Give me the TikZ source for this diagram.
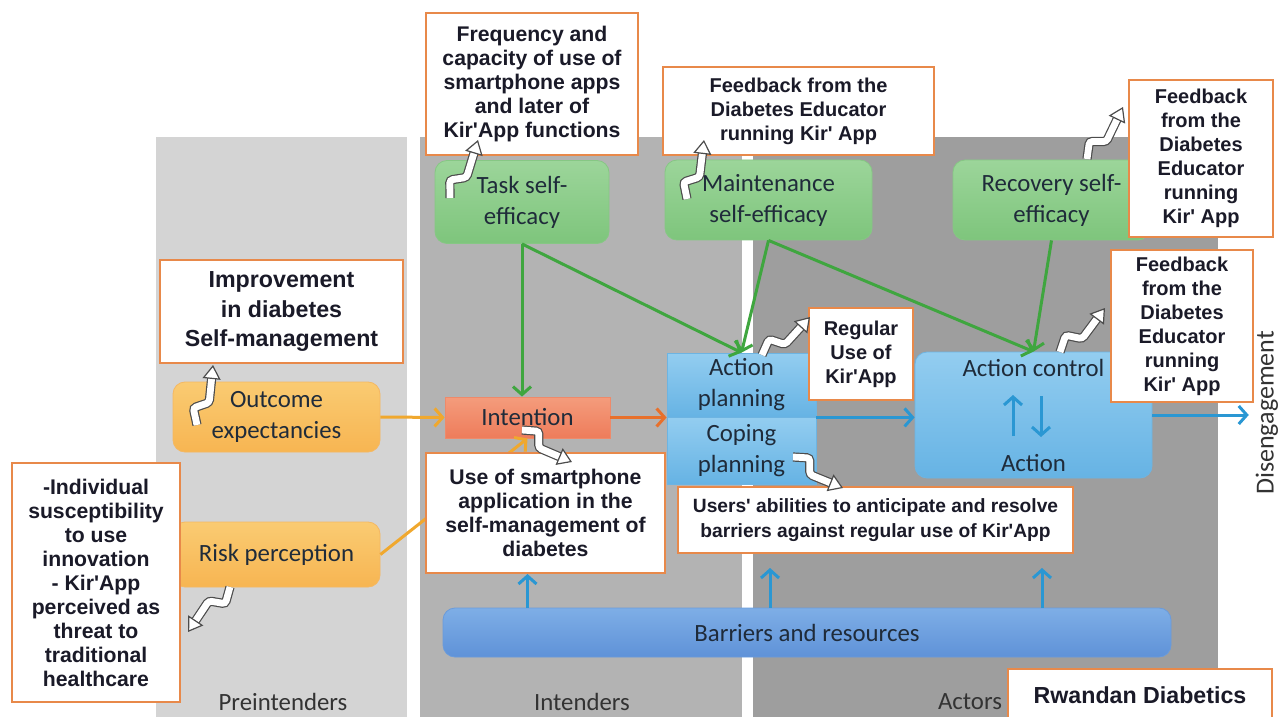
\documentclass[tikz,border=0pt]{standalone}
\usepackage{fontspec}
\setmainfont{Carlito}
\newfontfamily\notefont{Liberation Sans}
\usepackage{tikz}
\usetikzlibrary{arrows.meta, calc, positioning}
\definecolor{panelpre}{HTML}{D4D4D4}
\definecolor{panelint}{HTML}{B3B3B3}
\definecolor{panelact}{HTML}{9E9E9E}
\definecolor{labtxt}{HTML}{1F2B3A}
\definecolor{notetxt}{HTML}{1A1A28}
\definecolor{notedge}{HTML}{E8894A}
\definecolor{green1}{HTML}{9CD59A}
\definecolor{green2}{HTML}{7EC57C}
\definecolor{greenedge}{HTML}{86C784}
\definecolor{orange1}{HTML}{FACB72}
\definecolor{orange2}{HTML}{F7B552}
\definecolor{orangeedge}{HTML}{F5B862}
\definecolor{intent1}{HTML}{F49C7C}
\definecolor{intent2}{HTML}{EE7C5B}
\definecolor{intentedge}{HTML}{EE8A6A}
\definecolor{blue1}{HTML}{93CDF0}
\definecolor{blue2}{HTML}{66B3E4}
\definecolor{blueedge}{HTML}{6DB4E2}
\definecolor{bar1}{HTML}{7EAEE6}
\definecolor{bar2}{HTML}{5F92D8}
\definecolor{baredge}{HTML}{6A9BDB}
\definecolor{arrgreen}{HTML}{3FA63F}
\definecolor{arrgold}{HTML}{F0A82E}
\definecolor{arrorange}{HTML}{E8702B}
\definecolor{arrblue}{HTML}{2A97D3}

% white squiggly pointer from a box to its note
\newcommand{\squig}[2]{%
  \draw[ptr] (#1) -- ($(#1)!0.25!(#2)!4pt!90:(#2)$)
    -- ($(#1)!0.4!(#2)!-3pt!90:(#2)$) -- (#2);}

\begin{document}
\begin{tikzpicture}[
  x=0.5pt, y=-0.5pt,
  >={Straight Barb[length=4pt,width=9pt]},
  lbl/.style={font=\fontsize{12.4}{15.5}\selectfont, text=labtxt,
    align=center, inner sep=0pt},
  greenbox/.style={lbl, draw=greenedge, rounded corners=6pt,
    top color=green1, bottom color=green2},
  orangebox/.style={lbl, draw=orangeedge, rounded corners=6pt,
    top color=orange1, bottom color=orange2},
  bluebox/.style={lbl, draw=blueedge, top color=blue1, bottom color=blue2},
  stagelbl/.style={font=\fontsize{12.4}{15}\selectfont, text=black!80},
  note/.style={draw=notedge, line width=1pt, fill=white, align=center,
    inner sep=0pt, text=notetxt,
    font=\notefont\bfseries\fontsize{10.6}{12}\selectfont},
  notesm/.style={note, font=\notefont\bfseries\fontsize{10}{12}\selectfont},
  notebig/.style={note, font=\notefont\bfseries\fontsize{11.6}{14.75}\selectfont},
  garr/.style={->, draw=arrgreen, line width=1.5pt},
  oarr/.style={->, draw=arrgold, line width=1.5pt},
  rarr/.style={->, draw=arrorange, line width=1.5pt},
  barr/.style={->, draw=arrblue, line width=1.5pt},
  ptr/.style={draw=black!70, line width=0.6pt, double=white,
    double distance=3.4pt, rounded corners=1.5pt,
    -{Triangle[open, fill=white, length=7pt, width=9pt]}}
]
\useasboundingbox (0,0) rectangle (1281,717);

% ---- Stage panels ----
\fill[panelpre] (156,137) rectangle (407,717);
\fill[panelint] (420,137) rectangle (742,717);
\fill[panelact] (753,137) rectangle (1218,717);

\node[stagelbl] (lblpre) at (283,702) {Preintenders};
\node[stagelbl] (lblint) at (582,702) {Intenders};
\node[stagelbl] (lblact) at (970,702) {Actors};
\node[stagelbl, rotate=90, font=\fontsize{13}{15}\selectfont] (diseng) at (1267,413) {Disengagement};

% ---- Self-efficacy ----
\node[greenbox, minimum width=87pt, minimum height=41.5pt] (task) at (522,202) {Task self-\\efficacy};
\node[greenbox, minimum width=103.5pt, minimum height=40pt] (maint) at (768.5,200) {Maintenance\\self-efficacy};
\node[greenbox, minimum width=98.5pt, minimum height=40pt] (recov) at (1051.5,200) {Recovery self-\\efficacy};

% ---- Preintenders ----
\node[orangebox, minimum width=103.5pt, minimum height=35pt] (outcome) at (276.5,417) {Outcome\\expectancies};
\node[orangebox, minimum width=103.5pt, minimum height=32.5pt] (risk) at (276.5,554.5) {Risk perception};

% ---- Intenders / actors ----
\node[lbl, draw=intentedge, top color=intent1, bottom color=intent2,
  minimum width=82.5pt, minimum height=20.5pt] (intent) at (527.5,417.5) {Intention};
\node[bluebox, minimum width=74.5pt, minimum height=32pt] (ap) at (741.5,385) {Action\\planning};
\node[bluebox, minimum width=74.5pt, minimum height=33.5pt] (cp) at (741.5,450.5) {Coping\\planning};
\node[bluebox, rounded corners=6pt, minimum width=118.5pt, minimum height=63pt] (ac) at (1033.5,415) {};
\node[lbl, below=3.5pt of ac.north] (acctl) {Action control};
\node[lbl, above=3pt of ac.south] (acact) {Action};
\node[lbl, draw=baredge, rounded corners=6pt, top color=bar1, bottom color=bar2,
  minimum width=364pt, minimum height=24.5pt] (barriers) at (807,632.5) {Barriers and resources};

\coordinate (acup1) at (1013,436);
\coordinate (acup2) at (1013,395);
\coordinate (acdn1) at (1041,396);
\coordinate (acdn2) at (1041,437);
\coordinate (bar2) at (770,568);
\coordinate (bar3) at (1042,568);

% ---- Connectors ----
\draw[garr] (task.south) -- (task.south |- intent.north);
\draw[garr] (task.south) -- (ap.north);
\draw[garr] (maint.south) -- (ap.north);
\draw[garr] (maint.south) -- (ac.north);
\draw[garr] (recov.south) -- (ac.north);

\draw[oarr] (outcome.east) -- (intent.west);
\draw[oarr] (risk.east) -- (intent.south);
\draw[rarr] (intent.east) -- (intent.east -| ap.west);
\draw[barr] (ap.south east) -- (ap.south east -| ac.west);
\draw[barr] (ac.east) -- (ac.east -| diseng.north);
\draw[barr] (acup1) -- (acup2);
\draw[barr] (acdn1) -- (acdn2);

% ---- Notes ----
\node[note, minimum width=106pt, minimum height=71pt] (freq) at (532,84)
  {Frequency and\\capacity of use of\\smartphone apps\\and later of\\Kir'App functions};
\node[notesm, minimum width=135.5pt, minimum height=44pt] (fbmaint) at (798.5,111)
  {Feedback from the\\Diabetes Educator\\running Kir' App};
\node[notesm, minimum width=72pt, minimum height=78.5pt] (fbrec) at (1201,158.5)
  {Feedback\\from the\\Diabetes\\Educator\\running\\Kir' App};
\node[notesm, minimum width=71pt, minimum height=76pt] (fbctrl) at (1182,326)
  {Feedback\\from the\\Diabetes\\Educator\\running\\Kir' App};
\node[notebig, minimum width=121.5pt, minimum height=51.5pt] (improve) at (281.5,311.5)
  {Improvement\\in diabetes\\Self-management};
\node[note, minimum width=84pt, minimum height=119.5pt] (indiv) at (96,582.5)
  {-Individual\\susceptibility\\to use\\innovation\\- Kir'App\\perceived as\\threat to\\traditional\\healthcare};
\node[note, minimum width=119.5pt, minimum height=60pt] (usesmart) at (545.5,513)
  {Use of smartphone\\application in the\\self-management of\\diabetes};
\node[notesm, minimum width=52pt, minimum height=46pt] (regular) at (861,354)
  {Regular\\Use of\\Kir'App};
\node[notesm, font=\notefont\bfseries\fontsize{9.6}{12.5}\selectfont,
  minimum width=197.5pt, minimum height=33pt] (users) at (875.5,520)
  {Users' abilities to anticipate and resolve\\barriers against regular use of Kir'App};
\node[notebig, minimum width=132pt, minimum height=26.5pt] (rwandan) at (1140,695.5)
  {Rwandan Diabetics};

\draw[barr] (barriers.north -| intent.south) -- (usesmart.south -| intent.south);
\draw[barr] (barriers.north -| bar2) -- (bar2);
\draw[barr] (barriers.north -| bar3) -- (bar3);

% ---- Pointers ----
\coordinate (ptask) at (450,198);   \coordinate (pfreq) at (478,140);
\coordinate (pmaint) at (687,199);  \coordinate (pfbm) at (704,140);
\coordinate (precov) at (1087,159); \coordinate (pfbr) at (1123,107);
\coordinate (pac) at (1060,352);    \coordinate (pfbc) at (1105,308);
\coordinate (pap) at (762,355);     \coordinate (preg) at (810,317);
\coordinate (pcp) at (793,457);     \coordinate (pusr) at (843,488);
\coordinate (pint) at (522,430);    \coordinate (puse) at (572,462);
\coordinate (pout) at (197,425);    \coordinate (pimp) at (213,365);
\coordinate (prisk) at (230,587);   \coordinate (pind) at (188,632);

\squig{ptask}{pfreq}
\squig{pmaint}{pfbm}
\squig{precov}{pfbr}
\squig{pac}{pfbc}
\squig{pap}{preg}
\squig{pcp}{pusr}
\squig{pint}{puse}
\squig{pout}{pimp}
\squig{prisk}{pind}

\end{tikzpicture}
\end{document}
